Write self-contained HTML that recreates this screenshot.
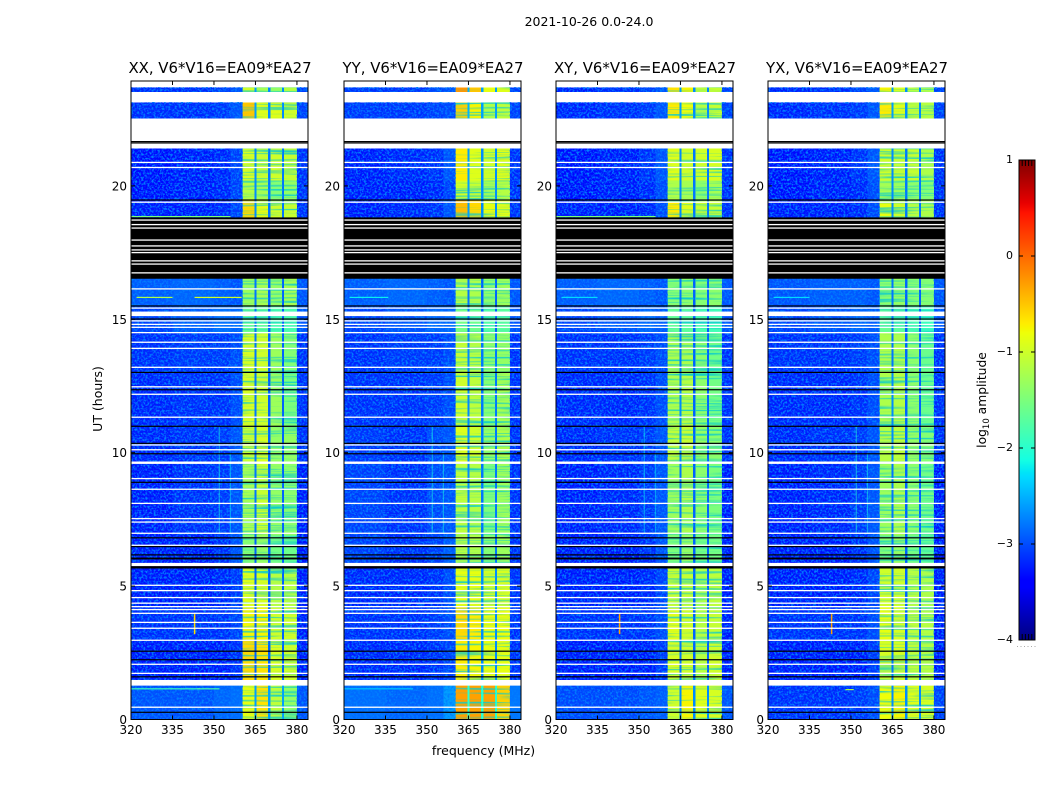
<!DOCTYPE html>
<html>
<head>
<meta charset="utf-8">
<title>2021-10-26 amplitude spectrograms</title>
<style>
html,body{margin:0;padding:0;background:#fff;}
svg{display:block;}
text{font-family:"DejaVu Sans","Liberation Sans",sans-serif;fill:#000;}
</style>
</head>
<body>
<svg id="chart" xmlns="http://www.w3.org/2000/svg" width="1050" height="800" viewBox="0 0 1050 800">
  <defs>
    <filter id="grain" x="0" y="0" width="1" height="1" color-interpolation-filters="sRGB">
      <feTurbulence type="fractalNoise" baseFrequency="0.48" numOctaves="2" seed="7"/>
      <feColorMatrix type="matrix" values="0 0 0 0 0  0 0 0 0 0.5  0 0 0 0 1  3.4 0 0 0 -1.45"/>
    </filter>
    <filter id="streak" x="0" y="0" width="1" height="1" color-interpolation-filters="sRGB">
      <feTurbulence type="fractalNoise" baseFrequency="0.012 0.42" numOctaves="2" seed="11"/>
      <feColorMatrix type="matrix" values="0 0 0 0 0.05  0 0 0 0 0.8  0 0 0 0 0.8  3.0 0 0 0 -1.42"/>
    </filter>
  </defs>
  <text x="589" y="26" font-size="12.5" text-anchor="middle">2021-10-26 0.0-24.0</text>
  <text x="483.500" y="755" font-size="12.5" text-anchor="middle">frequency (MHz)</text>
  <text transform="translate(102,399) rotate(-90)" font-size="12.5" text-anchor="middle">UT (hours)</text>
  <text transform="translate(986,400) rotate(-90)" font-size="12.3" text-anchor="middle">log<tspan font-size="8.500" dy="3">10</tspan><tspan dy="-3"> amplitude</tspan></text>
  <g id="panels"></g>
  <g id="colorbar"></g>
</svg>
<script>
// ---------- data ----------
const panelTitles = ['XX, V6*V16=EA09*EA27','YY, V6*V16=EA09*EA27','XY, V6*V16=EA09*EA27','YX, V6*V16=EA09*EA27'];
const freqTicks = [320,335,350,365,380];
const hourTicks = [0,5,10,15,20];
const colorTicks = [1,0,-1,-2,-3,-4];
// frequency column edges in MHz
const freqEdges = [320,335,350,356,360.4,364.6,365.4,369.6,370.4,374.6,375.4,380,384];
// observing blocks in UT hours
const bandStart = [0,1.48,3.0,4.2,5.66,6.9,9.6,11,13,14.5,15.5,18.82,19.47,20.2,22.53,23.52];
const bandEnd   = [1.27,3.0,4.2,5.75,6.9,9.6,11,13,14.5,15.5,16.52,19.47,20.2,21.4,23.13,23.69];
// log10 amplitude: one row per block, one value per frequency column
const levelsXX = [
 [-3.0,-3.0,-2.9,-2.85,-0.85,-2.6,-0.65,-2.6,-1.1,-2.6,-1.35,-3.0],
 [-3.3,-3.3,-3.3,-3.2,-0.6,-2.9,-0.65,-2.9,-0.95,-2.9,-1.0,-3.3],
 [-3.2,-3.2,-3.2,-3.1,-0.75,-2.9,-0.75,-2.9,-1.0,-2.9,-1.0,-3.3],
 [-3.3,-3.3,-3.25,-3.15,-0.9,-2.9,-0.95,-2.9,-1.15,-2.9,-1.15,-3.3],
 [-3.3,-3.3,-3.2,-3.0,-1.45,-2.9,-1.35,-2.9,-1.55,-2.9,-1.6,-3.3],
 [-3.3,-3.2,-3.15,-3.0,-1.25,-2.8,-1.05,-2.9,-1.35,-2.9,-1.4,-3.3],
 [-3.25,-3.2,-3.15,-3.0,-1.05,-2.8,-0.95,-2.9,-1.35,-2.9,-1.35,-3.2],
 [-3.25,-3.2,-3.2,-3.05,-0.95,-2.8,-1.0,-2.9,-1.3,-2.9,-1.5,-3.2],
 [-3.2,-3.15,-3.15,-3.05,-0.95,-2.8,-1.0,-2.9,-1.3,-2.9,-1.45,-3.2],
 [-3.1,-2.95,-2.85,-2.9,-1.6,-2.8,-1.65,-2.9,-1.8,-2.9,-1.8,-3.0],
 [-2.95,-2.9,-2.95,-3.0,-1.3,-2.8,-1.25,-2.9,-1.35,-2.9,-1.25,-3.0],
 [-3.3,-3.3,-3.25,-3.1,-0.6,-2.7,-0.85,-2.8,-1.0,-2.8,-1.05,-3.2],
 [-3.35,-3.3,-3.25,-3.1,-1.15,-2.7,-1.25,-2.8,-1.45,-2.8,-1.35,-3.2],
 [-3.35,-3.3,-3.25,-3.1,-0.95,-2.7,-1.05,-2.8,-1.0,-2.8,-1.05,-3.2],
 [-3.2,-3.2,-3.15,-3.0,-0.5,-2.6,-0.9,-2.7,-0.9,-2.7,-1.0,-3.1],
 [-3.2,-3.2,-3.1,-3.0,-1.0,-2.6,-1.25,-2.7,-1.35,-2.7,-1.15,-3.1]
];
const levelsYY = [
 [-2.85,-2.9,-2.85,-2.6,-0.3,-2.0,-0.3,-2.0,-0.3,-2.0,-0.55,-2.8],
 [-3.25,-3.25,-3.2,-3.1,-0.7,-2.7,-0.75,-2.7,-0.85,-2.7,-0.85,-3.2],
 [-3.2,-3.2,-3.15,-3.05,-0.6,-2.7,-0.7,-2.7,-0.8,-2.7,-0.8,-3.2],
 [-3.25,-3.25,-3.2,-3.05,-0.85,-2.7,-0.85,-2.7,-1.0,-2.7,-0.95,-3.2],
 [-3.1,-3.2,-3.1,-2.95,-1.15,-2.7,-1.2,-2.8,-1.45,-2.8,-1.3,-3.2],
 [-3.1,-3.2,-3.05,-3.0,-1.1,-2.7,-1.15,-2.8,-1.5,-2.8,-1.3,-3.2],
 [-3.15,-3.2,-3.05,-3.0,-0.9,-2.7,-1.0,-2.8,-1.35,-2.8,-1.2,-3.2],
 [-3.2,-3.2,-3.15,-3.05,-1.0,-2.7,-1.1,-2.8,-1.45,-2.8,-1.25,-3.2],
 [-3.2,-3.15,-3.15,-3.05,-1.05,-2.7,-1.15,-2.8,-1.4,-2.8,-1.35,-3.2],
 [-3.1,-3.0,-2.9,-2.9,-1.55,-2.8,-1.6,-2.9,-1.75,-2.9,-1.7,-3.0],
 [-2.95,-2.9,-2.95,-3.0,-1.15,-2.8,-1.2,-2.9,-1.4,-2.9,-1.3,-3.0],
 [-3.3,-3.25,-3.2,-3.0,-0.45,-2.6,-0.6,-2.7,-0.85,-2.7,-0.9,-3.2],
 [-3.3,-3.3,-3.25,-3.1,-0.95,-2.6,-1.05,-2.7,-1.25,-2.7,-1.15,-3.2],
 [-3.3,-3.25,-3.2,-3.0,-0.7,-2.6,-0.9,-2.7,-1.0,-2.7,-0.9,-3.2],
 [-3.15,-3.15,-3.1,-3.05,-0.55,-2.5,-0.75,-2.6,-1.2,-2.6,-1.1,-3.1],
 [-3.15,-3.15,-3.05,-3.0,-0.25,-2.5,-0.5,-2.6,-0.85,-2.6,-0.9,-3.1]
];
const levelsXY = [
 [-3.05,-3.05,-3.0,-2.95,-1.0,-2.7,-0.75,-2.7,-0.9,-2.7,-0.95,-3.0],
 [-3.3,-3.3,-3.3,-3.15,-0.95,-2.8,-1.0,-2.9,-1.15,-2.9,-1.0,-3.3],
 [-3.2,-3.2,-3.2,-3.05,-0.9,-2.8,-1.0,-2.9,-1.15,-2.9,-1.05,-3.3],
 [-3.3,-3.3,-3.25,-3.1,-1.05,-2.8,-1.05,-2.9,-1.2,-2.9,-1.1,-3.3],
 [-3.3,-3.3,-3.2,-3.0,-1.5,-2.8,-1.35,-2.9,-1.55,-2.9,-1.55,-3.3],
 [-3.3,-3.25,-3.15,-3.0,-1.3,-2.8,-1.2,-2.9,-1.4,-2.9,-1.5,-3.3],
 [-3.25,-3.2,-3.15,-3.0,-1.1,-2.7,-1.05,-2.9,-1.35,-2.9,-1.4,-3.2],
 [-3.25,-3.25,-3.2,-3.05,-1.2,-2.7,-1.15,-2.9,-1.4,-2.9,-1.55,-3.2],
 [-3.2,-3.2,-3.15,-3.05,-1.2,-2.8,-1.2,-2.9,-1.4,-2.9,-1.55,-3.2],
 [-3.1,-3.0,-2.9,-2.95,-1.65,-2.8,-1.7,-2.9,-1.8,-2.9,-1.85,-3.0],
 [-2.95,-2.9,-2.95,-3.0,-1.45,-2.8,-1.4,-2.9,-1.45,-2.9,-1.4,-3.0],
 [-3.3,-3.3,-3.25,-3.05,-0.7,-2.7,-0.9,-2.8,-1.05,-2.8,-1.05,-3.2],
 [-3.35,-3.3,-3.25,-3.05,-1.2,-2.7,-1.25,-2.8,-1.4,-2.8,-1.25,-3.2],
 [-3.35,-3.3,-3.2,-3.0,-0.9,-2.7,-1.0,-2.8,-1.0,-2.8,-0.95,-3.2],
 [-3.25,-3.2,-3.15,-3.0,-0.7,-2.6,-0.8,-2.7,-1.15,-2.7,-1.05,-3.1],
 [-3.25,-3.2,-3.1,-3.0,-0.65,-2.6,-0.75,-2.7,-1.1,-2.7,-1.05,-3.1]
];
const levelsYX = [
 [-3.2,-3.2,-3.15,-3.05,-0.8,-2.7,-0.75,-2.7,-0.9,-2.7,-0.95,-3.1],
 [-3.3,-3.3,-3.3,-3.15,-0.95,-2.8,-0.95,-2.9,-1.1,-2.9,-1.15,-3.3],
 [-3.2,-3.2,-3.2,-3.05,-0.85,-2.8,-0.95,-2.9,-1.1,-2.9,-1.15,-3.3],
 [-3.3,-3.3,-3.25,-3.1,-1.0,-2.8,-1.0,-2.9,-1.15,-2.9,-1.2,-3.3],
 [-3.3,-3.3,-3.2,-3.0,-1.45,-2.8,-1.35,-2.9,-1.55,-2.9,-1.65,-3.3],
 [-3.3,-3.25,-3.15,-3.0,-1.3,-2.8,-1.2,-2.9,-1.4,-2.9,-1.55,-3.3],
 [-3.25,-3.2,-3.15,-3.0,-1.15,-2.7,-1.1,-2.9,-1.35,-2.9,-1.45,-3.2],
 [-3.25,-3.25,-3.2,-3.05,-1.2,-2.7,-1.15,-2.9,-1.4,-2.9,-1.6,-3.2],
 [-3.2,-3.2,-3.15,-3.05,-1.2,-2.8,-1.2,-2.9,-1.4,-2.9,-1.6,-3.2],
 [-3.1,-3.0,-2.9,-2.95,-1.65,-2.8,-1.7,-2.9,-1.8,-2.9,-1.9,-3.0],
 [-3.0,-2.95,-2.95,-3.0,-1.4,-2.8,-1.35,-2.9,-1.45,-2.9,-1.45,-3.0],
 [-3.3,-3.3,-3.25,-3.05,-0.85,-2.7,-1.0,-2.8,-1.15,-2.8,-1.2,-3.2],
 [-3.35,-3.3,-3.25,-3.05,-1.25,-2.7,-1.3,-2.8,-1.4,-2.8,-1.45,-3.2],
 [-3.35,-3.3,-3.2,-3.0,-1.0,-2.7,-1.05,-2.8,-1.05,-2.8,-1.2,-3.2],
 [-3.25,-3.2,-3.15,-3.0,-0.7,-2.6,-0.9,-2.7,-1.1,-2.7,-1.15,-3.1],
 [-3.25,-3.2,-3.1,-3.0,-0.75,-2.6,-0.95,-2.7,-1.15,-2.7,-1.2,-3.1]
];
const panelLevels = [levelsXX,levelsYY,levelsXY,levelsYX];
// frequency columns that hold the in-band channels
const inBandColumns = [4,6,8,10];
// flagged (no-data) integrations, UT hours
const flaggedHours = [20.88,20.69,19.39,18.72,18.55,18.42,17.97,17.75,17.60,17.50,17.19,17.07,16.74,16.14,15.42,14.94,14.81,14.70,14.50,14.14,13.91,13.20,12.47,12.19,11.33,10.29,10.11,9.03,8.63,8.10,7.53,7.40,6.98,6.53,5.03,4.83,4.57,4.36,4.23,4.12,3.98,3.64,3.42,2.97,2.07,1.73,0.46];
const flaggedStart = [9.58,15.12,5.75,1.27];
const flaggedEnd   = [9.67,15.29,5.87,1.48];
// zero-amplitude integrations, UT hours
const blackHours = [21.66,21.61,19.47,15.50,15.01,13.01,12.36,10.99,10.35,9.96,8.89,6.81,6.48,6.17,2.56,2.24,1.60,0.27];
const blackStart = [16.52,6.00,5.66];
const blackEnd   = [18.82,6.07,5.75];
// narrow interference: panel, hour, start MHz, end MHz, log10 amplitude
const rfiPanel = [0,0,0,0,1,2,3,0,1,2,3];
const rfiHour  = [15.82,15.82,1.15,18.85,15.82,18.85,1.12,1.15,1.15,15.82,15.82];
const rfiStart = [322,343,320,320,322,320,348,344,320,322,322];
const rfiEnd   = [335,360,345,356,336,356,351,352,345,335,335];
const rfiLevel = [-1.2,-1.0,-1.9,-1.5,-2.2,-1.5,-1.2,-1.8,-2.4,-2.3,-2.3];
const spurFreq  = [352,356,352,356,352,356,352,356,343,343,343];
const spurPanel = [0,0,1,1,2,2,3,3,0,2,3];
const spurStart = [7,7,7,7,7,7,7,7,3.2,3.2,3.2];
const spurEnd   = [11,10,11,10,11,10,11,10,3.95,3.95,3.95];
const spurLevel = [-2.1,-2.2,-2.1,-2.1,-2.2,-2.2,-2.0,-2.1,-0.6,-0.3,-0.3];

// ---------- layout & axis functions ----------
const NS = 'http://www.w3.org/2000/svg';
const plotLefts = [131,344,556,768];
const plotWidth = 177, plotTop = 81, plotBottom = 719.5;
const MHzPx = plotWidth / (384 - 320);
const hourPx = 26.68;
const xScale = (p, f) => plotLefts[p] + (f - 320) * MHzPx;
const yScale = h => plotBottom - h * hourPx;
const cbTop = 160, cbBottom = 640, cbLeft = 1019, cbRight = 1035;
const cbScale = v => cbBottom - (v + 4) / 5 * (cbBottom - cbTop);

function ramp(t, pts){
  for (let i = 1; i < pts.length; i++) {
    if (t <= pts[i][0]) {
      const a = pts[i-1], b = pts[i];
      return a[1] + (b[1]-a[1]) * (t-a[0]) / (b[0]-a[0]);
    }
  }
  return pts[pts.length-1][1];
}
function colorOf(v){
  const t = Math.max(0, Math.min(1, (v + 4) / 5));
  const r = ramp(t, [[0,0],[0.35,0],[0.66,1],[0.89,1],[1,0.5]]);
  const g = ramp(t, [[0,0],[0.125,0],[0.375,1],[0.64,1],[0.91,0],[1,0]]);
  const b = ramp(t, [[0,0.5],[0.11,1],[0.34,1],[0.65,0],[1,0]]);
  return 'rgb(' + Math.round(r*255) + ',' + Math.round(g*255) + ',' + Math.round(b*255) + ')';
}
function make(tag, parent){
  const el = document.createElementNS(NS, tag);
  parent.appendChild(el);
  return el;
}
function box(parent, x, y, w, h, fill){
  const el = make('rect', parent);
  el.setAttribute('x', x); el.setAttribute('y', y);
  el.setAttribute('width', w); el.setAttribute('height', h);
  el.setAttribute('fill', fill);
  return el;
}
function seg(parent, x1, y1, x2, y2, stroke){
  const el = make('line', parent);
  el.setAttribute('x1', x1); el.setAttribute('y1', y1);
  el.setAttribute('x2', x2); el.setAttribute('y2', y2);
  el.setAttribute('stroke', stroke);
  el.setAttribute('stroke-width', 1);
  return el;
}
function label(parent, x, y, str, size, anchor){
  const el = make('text', parent);
  el.setAttribute('x', x); el.setAttribute('y', y);
  el.setAttribute('font-size', size);
  el.setAttribute('text-anchor', anchor);
  el.textContent = str;
  return el;
}
const fmt = n => n < 0 ? '\u2212' + Math.abs(n) : String(n);

// ---------- panels ----------
const panelsRoot = document.getElementById('panels');
panelTitles.forEach((title, p) => {
  const g = make('g', panelsRoot);
  
  

  const t = label(g, plotLefts[p] + plotWidth/2 + 0.5, 73, title, 14.9, 'middle');
  
  

  const levels = panelLevels[p];
  bandStart.forEach((h0, b) => {
    const y1 = yScale(bandEnd[b]), y0 = yScale(h0);
    // heatmap cells
    levels[b].forEach((v, c) => {
      const x0 = xScale(p, freqEdges[c]), x1 = xScale(p, freqEdges[c+1]);
      const cell = box(g, x0, y1, x1 - x0, y0 - y1, colorOf(v));
      cell.setAttribute('shape-rendering', 'crispEdges');
      
      
    });
    // channel-noise texture over the off-band channels
    const grainA = box(g, xScale(p,320), y1, xScale(p,360.4) - xScale(p,320), y0 - y1, '#000');
    grainA.setAttribute('filter', 'url(#grain)');
    
    
    const grainB = box(g, xScale(p,380), y1, xScale(p,384) - xScale(p,380), y0 - y1, '#000');
    grainB.setAttribute('filter', 'url(#grain)');
    
    
    // horizontal striations inside each in-band channel group
    inBandColumns.forEach(c => {
      const x0 = xScale(p, freqEdges[c]), x1 = xScale(p, freqEdges[c+1]);
      const streak = box(g, x0, y1, x1 - x0, y0 - y1, '#000');
      streak.setAttribute('filter', 'url(#streak)');
      
      
    });
  });

  // interference
  rfiPanel.forEach((rp, i) => {
    if (rp !== p) return;
    const m = box(g, xScale(p, rfiStart[i]), yScale(rfiHour[i]) - 0.6, xScale(p, rfiEnd[i]) - xScale(p, rfiStart[i]), 1.2, colorOf(rfiLevel[i]));
    
    
  });
  spurPanel.forEach((sp, i) => {
    if (sp !== p) return;
    const wide = spurLevel[i] > -1;
    const m = box(g, xScale(p, spurFreq[i]) - 0.75, yScale(spurEnd[i]), wide ? 1.5 : 1, yScale(spurStart[i]) - yScale(spurEnd[i]), colorOf(spurLevel[i]));
    m.setAttribute('opacity', wide ? '1' : '0.6');
    
    
  });

  // zero-amplitude rows
  blackStart.forEach((h0, i) => {
    const m = box(g, plotLefts[p], yScale(blackEnd[i]), plotWidth, yScale(h0) - yScale(blackEnd[i]), '#000');
    
    
  });
  blackHours.forEach(h => {
    const m = box(g, plotLefts[p], yScale(h) - 0.6, plotWidth, 1.2, '#000');
    
    
  });
  // flagged rows
  flaggedStart.forEach((h0, i) => {
    const m = box(g, plotLefts[p], yScale(flaggedEnd[i]), plotWidth, yScale(h0) - yScale(flaggedEnd[i]), '#fff');
    
    
  });
  flaggedHours.forEach(h => {
    const m = box(g, plotLefts[p], yScale(h) - 0.65, plotWidth, 1.3, '#fff');
    
    
  });

  // frame
  const frame = box(g, plotLefts[p], plotTop, plotWidth, plotBottom - plotTop, 'none');
  frame.setAttribute('stroke', '#000');
  frame.setAttribute('stroke-width', 1);
  
  

  // ticks
  freqTicks.forEach(f => {
    const x = xScale(p, f);
    const a = seg(g, x, plotBottom, x, plotBottom - 4, '#000');
    
    
    const b = seg(g, x, plotTop, x, plotTop + 4, '#000');
    
    
    const l = label(g, x, 734, String(f), 12, 'middle');
    
    
  });
  hourTicks.forEach(h => {
    const y = yScale(h);
    const a = seg(g, plotLefts[p], y, plotLefts[p] + 4, y, '#000');
    
    
    const b = seg(g, plotLefts[p] + plotWidth, y, plotLefts[p] + plotWidth - 4, y, '#000');
    
    
    const l = label(g, plotLefts[p] - 4, y + 4.5, String(h), 12, 'end');
    
    
  });
});

// ---------- colorbar ----------
const cb = document.getElementById('colorbar');
for (let y = cbTop; y < cbBottom; y++) {
  const v = 1 - (y + 0.5 - cbTop) / (cbBottom - cbTop) * 5;
  const s = box(cb, cbLeft, y, cbRight - cbLeft, 1, colorOf(v));
  s.setAttribute('shape-rendering', 'crispEdges');
  
  
}
const cbFrame = box(cb, cbLeft, cbTop, cbRight - cbLeft, cbBottom - cbTop, 'none');
cbFrame.setAttribute('stroke', '#000');
cbFrame.setAttribute('stroke-width', 1);


colorTicks.forEach(v => {
  const y = cbScale(v);
  const a = seg(cb, cbLeft, y, cbLeft + 4, y, '#000');
  
  
  const b = seg(cb, cbRight, y, cbRight - 4, y, '#000');
  
  
  const l = label(cb, 1013, y + 3, fmt(v), 11, 'end');
  
  
});
// short marks along the top and bottom edges of the colorbar
for (let i = 1; i <= 4; i++) {
  const x = cbLeft + i * (cbRight - cbLeft) / 5;
  const topMark = seg(cb, x, cbTop, x, cbTop + 6, '#000');
  
  
  const bottomMark = seg(cb, x, cbBottom, x, cbBottom - 6, '#000');
  
  
}
const dots = seg(cb, 1017, 646.5, 1036, 646.5, '#aaa');
dots.setAttribute('stroke-dasharray', '1 2.500');


</script>
</body>
</html>
